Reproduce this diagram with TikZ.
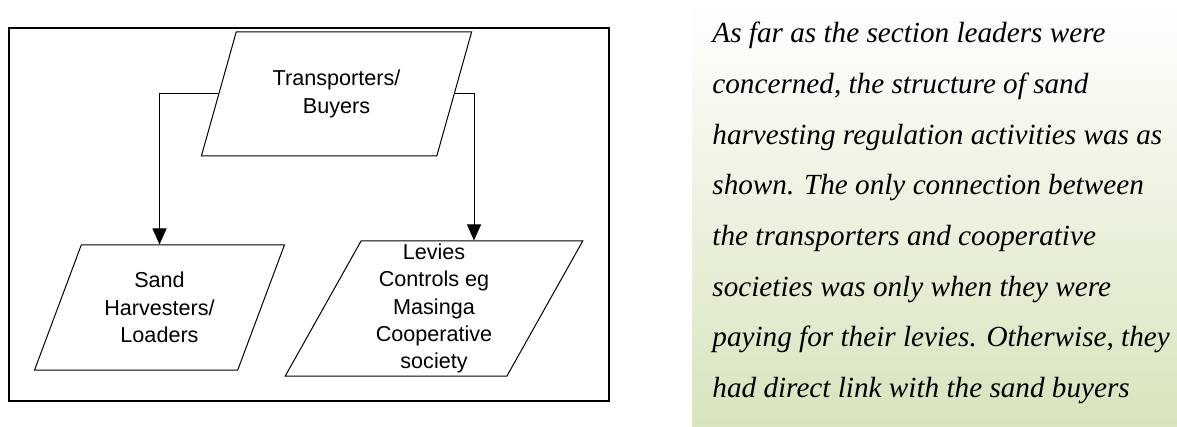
\documentclass[tikz,border=0pt]{standalone}
\usepackage{fontspec}
\setmainfont{Liberation Serif}
\newfontfamily\arialfont{Liberation Sans}
\usetikzlibrary{shapes.geometric, positioning, arrows.meta}
\definecolor{PaleOlive}{RGB}{215,228,189}
\tikzset{
  para/.style={trapezium, trapezium left angle=65, trapezium right angle=115, trapezium stretches=true, draw, line width=0.5pt, inner sep=0pt, align=center, font=\arialfont\fontsize{10.8}{13.7}\selectfont},
  link/.style={line width=0.5pt, -{Triangle[width=7pt,length=8pt]}},
  notes/.style={anchor=base west, inner sep=0pt, font=\itshape\fontsize{14.6}{18}\selectfont}
}

\begin{document}
\begin{tikzpicture}[x=0.5pt,y=-0.5pt]
  \useasboundingbox (0,0) rectangle (1177,427);
  \shade[top color=white, bottom color=PaleOlive] (692,0) rectangle (1177,427);
  \draw[line width=1.3pt] (9,28) rectangle (609,401);
  \node[para, minimum width=135.5pt, minimum height=62pt] (buyers) at (336.5,94) {Transporters/\\Buyers};
  \node[para, minimum width=125.5pt, minimum height=62.5pt] (harvesters) at (159.5,307.5) {Sand\\Harvesters/\\Loaders};
  \node[para, minimum width=149pt, minimum height=67.5pt] (levies) at (434,308.5) {Levies\\Controls eg\\Masinga\\Cooperative\\society};
  \draw[link] (buyers.west) -| (harvesters.north);
  \draw[link] (buyers.east) -| ([xshift=20pt]levies.north);
  \foreach \txt [count=\i] in {As far as the section leaders were, {concerned, the structure of sand}, harvesting regulation activities was as, shown. The only connection between, the transporters and cooperative, societies was only when they were, {paying for their levies. Otherwise, they}, had direct link with the sand buyers}
    \node[notes] (note\i) at (712,{43+50.6*(\i-1)}) {\txt};
\end{tikzpicture}
\end{document}
